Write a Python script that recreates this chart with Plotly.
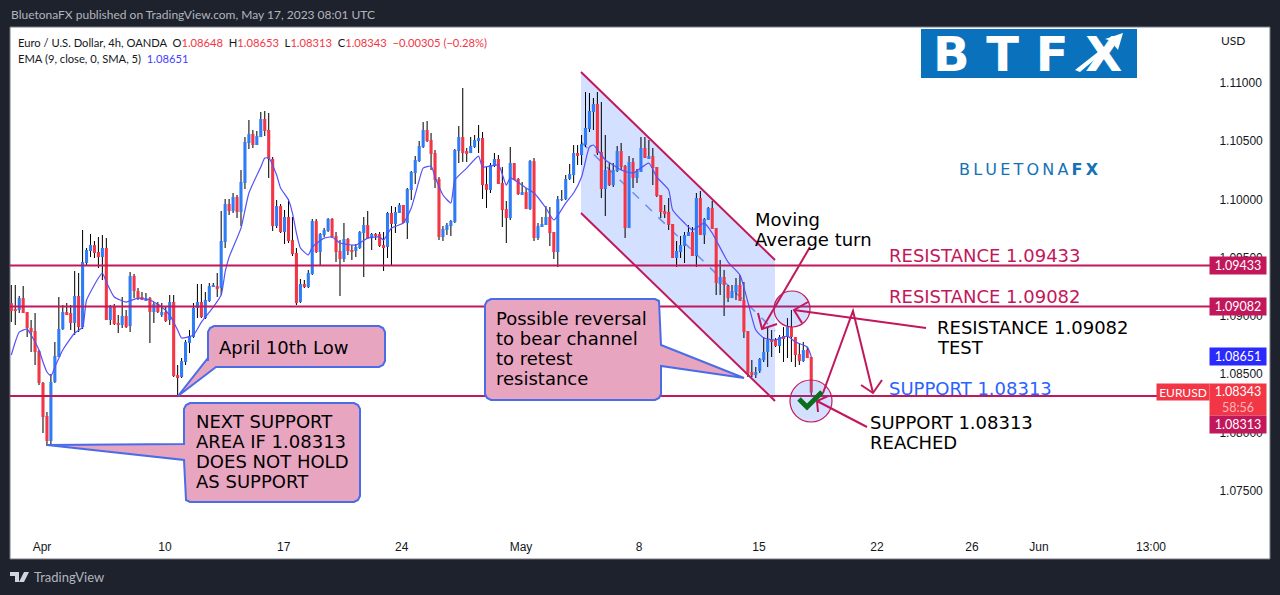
import plotly.graph_objects as go

# EURUSD 4h bars, oldest first
opens = [
    1.09111, 1.09060, 1.09051, 1.09154, 1.09034, 1.08897, 1.08871, 1.08699, 1.08425, 1.08142,
    1.07927, 1.08434, 1.08648, 1.08888, 1.09034, 1.09026, 1.08940, 1.09172, 1.08905, 1.09455,
    1.09558, 1.09609, 1.09549, 1.09506, 1.09584, 1.08966, 1.09086, 1.08940, 1.08923, 1.09000,
    1.08914, 1.09343, 1.09214, 1.09163, 1.09137, 1.09154, 1.09034, 1.09103, 1.09008, 1.09034,
    1.08966, 1.09120, 1.08493, 1.08476, 1.08605, 1.08768, 1.08820, 1.09069, 1.09120, 1.08983,
    1.09129, 1.09257, 1.09257, 1.09240, 1.09635, 1.09961, 1.09901, 1.10021, 1.09893, 1.10142,
    1.10485, 1.10562, 1.10468, 1.10536, 1.10691, 1.10597, 1.10348, 1.09772, 1.09944, 1.09721,
    1.09850, 1.09652, 1.09541, 1.09120, 1.09275, 1.09249, 1.09360, 1.09815, 1.09549, 1.09695,
    1.09730, 1.09833, 1.09687, 1.09558, 1.09489, 1.09661, 1.09566, 1.09558, 1.09584, 1.09712,
    1.09781, 1.09669, 1.09704, 1.09704, 1.09609, 1.09592, 1.09884, 1.09790, 1.09884, 1.09953,
    1.09798, 1.10082, 1.10227, 1.10330, 1.10451, 1.10597, 1.10511, 1.10399, 1.10176, 1.09678,
    1.09738, 1.09772, 1.09807, 1.10416, 1.10536, 1.10416, 1.10399, 1.10451, 1.10502, 1.10528,
    1.10133, 1.10082, 1.10287, 1.10348, 1.10142, 1.09918, 1.09841, 1.10313, 1.10176, 1.10047,
    1.10064, 1.09918, 1.10330, 1.09669, 1.09764, 1.09781, 1.09850, 1.09721, 1.09549, 1.09996,
    1.10004, 1.10176, 1.10210, 1.10399, 1.10382, 1.10468, 1.10605, 1.10751, 1.10820, 1.10408,
    1.10090, 1.10253, 1.10124, 1.10245, 1.10416, 1.10287, 1.09755, 1.10322, 1.10185, 1.10236,
    1.10442, 1.10356, 1.10373, 1.10279, 1.10039, 1.09901, 1.09893, 1.09790, 1.09498, 1.09549,
    1.09601, 1.09687, 1.09721, 1.09515, 1.10013, 1.09695, 1.09824, 1.09927, 1.09755, 1.09275,
    1.09335, 1.09257, 1.09154, 1.09206, 1.09266, 1.09137, 1.08871, 1.08519, 1.08493, 1.08528,
    1.08622, 1.08691, 1.08794, 1.08794, 1.08742, 1.08828, 1.08820, 1.08905, 1.08820, 1.08673,
    1.08613, 1.08708, 1.08648,
]
highs = [
    1.09266, 1.09266, 1.09172, 1.09257, 1.09034, 1.08966, 1.09026, 1.08708, 1.08434, 1.08176,
    1.08502, 1.08777, 1.09163, 1.09094, 1.09111, 1.09094, 1.09386, 1.09369, 1.09738, 1.09584,
    1.09704, 1.09644, 1.09678, 1.09695, 1.09669, 1.09094, 1.09103, 1.09008, 1.09163, 1.09051,
    1.09378, 1.09360, 1.09240, 1.09206, 1.09197, 1.09163, 1.09120, 1.09120, 1.09111, 1.09077,
    1.09180, 1.09180, 1.08579, 1.08639, 1.08794, 1.08880, 1.09111, 1.09275, 1.09275, 1.09206,
    1.09283, 1.09283, 1.09369, 1.09901, 1.10004, 1.10004, 1.10056, 1.10039, 1.10253, 1.10536,
    1.10682, 1.10597, 1.10588, 1.10751, 1.10760, 1.10742, 1.10365, 1.09996, 1.09961, 1.09910,
    1.10004, 1.09850, 1.09584, 1.09317, 1.09309, 1.09395, 1.09833, 1.09833, 1.09712, 1.09755,
    1.09841, 1.09841, 1.09721, 1.09652, 1.09798, 1.09669, 1.09609, 1.09618, 1.09730, 1.09850,
    1.09901, 1.09712, 1.09712, 1.09721, 1.09721, 1.09893, 1.09944, 1.09936, 1.09970, 1.09953,
    1.10099, 1.10245, 1.10373, 1.10502, 1.10665, 1.10674, 1.10571, 1.10425, 1.10193, 1.09772,
    1.09798, 1.09824, 1.10433, 1.10631, 1.10957, 1.10442, 1.10536, 1.10554, 1.10639, 1.10579,
    1.10279, 1.10313, 1.10399, 1.10382, 1.10279, 1.09987, 1.10451, 1.10313, 1.10185, 1.10150,
    1.10099, 1.10339, 1.10356, 1.09798, 1.09850, 1.09944, 1.09936, 1.09721, 1.10030, 1.10082,
    1.10210, 1.10305, 1.10468, 1.10468, 1.10554, 1.10923, 1.10914, 1.10871, 1.10923, 1.10837,
    1.10554, 1.10313, 1.10313, 1.10459, 1.10485, 1.10296, 1.10373, 1.10356, 1.10262, 1.10536,
    1.10536, 1.10511, 1.10442, 1.10279, 1.10039, 1.09953, 1.10013, 1.09790, 1.09644, 1.09687,
    1.09721, 1.09781, 1.09764, 1.10056, 1.10073, 1.09841, 1.09936, 1.09987, 1.09755, 1.09481,
    1.09395, 1.09266, 1.09266, 1.09326, 1.09352, 1.09292, 1.08871, 1.08622, 1.08562, 1.08639,
    1.08820, 1.08905, 1.08880, 1.08811, 1.08837, 1.08905, 1.08983, 1.09051, 1.08820, 1.08768,
    1.08777, 1.08734, 1.08653,
]
lows = [
    1.08948, 1.08923, 1.09026, 1.09026, 1.08820, 1.08691, 1.08579, 1.08408, 1.07996, 1.07884,
    1.07884, 1.08425, 1.08648, 1.08880, 1.09008, 1.08880, 1.08837, 1.08862, 1.08888, 1.09438,
    1.09506, 1.09498, 1.09412, 1.09309, 1.08966, 1.08923, 1.08923, 1.08854, 1.08897, 1.08897,
    1.08862, 1.09154, 1.09137, 1.09137, 1.09129, 1.08768, 1.08940, 1.09026, 1.08991, 1.08948,
    1.08923, 1.08476, 1.08313, 1.08467, 1.08579, 1.08682, 1.08811, 1.08983, 1.08983, 1.08974,
    1.09120, 1.09249, 1.09163, 1.09180, 1.09584, 1.09867, 1.09884, 1.09841, 1.09772, 1.10090,
    1.10433, 1.10442, 1.10468, 1.10536, 1.10545, 1.10185, 1.09730, 1.09755, 1.09712, 1.09618,
    1.09627, 1.09515, 1.09094, 1.09111, 1.09240, 1.09240, 1.09352, 1.09541, 1.09429, 1.09678,
    1.09721, 1.09669, 1.09463, 1.09172, 1.09463, 1.09524, 1.09481, 1.09506, 1.09575, 1.09335,
    1.09661, 1.09566, 1.09652, 1.09592, 1.09386, 1.09498, 1.09429, 1.09712, 1.09884, 1.09798,
    1.09661, 1.09996, 1.10133, 1.10322, 1.10442, 1.10494, 1.10253, 1.10099, 1.09652, 1.09644,
    1.09695, 1.09687, 1.09798, 1.10313, 1.10322, 1.10322, 1.10399, 1.10442, 1.10399, 1.10004,
    1.09927, 1.10056, 1.10279, 1.10133, 1.09764, 1.09627, 1.09824, 1.10167, 1.10039, 1.10047,
    1.09918, 1.09910, 1.09644, 1.09652, 1.09764, 1.09781, 1.09601, 1.09489, 1.09420, 1.09987,
    1.09996, 1.10167, 1.10142, 1.10296, 1.10296, 1.10451, 1.10579, 1.10597, 1.10382, 1.10013,
    1.09858, 1.10116, 1.10107, 1.10236, 1.10253, 1.09669, 1.09755, 1.10099, 1.10142, 1.10236,
    1.10356, 1.10356, 1.10124, 1.10021, 1.09841, 1.09841, 1.09738, 1.09498, 1.09420, 1.09498,
    1.09455, 1.09687, 1.09515, 1.09420, 1.09695, 1.09618, 1.09824, 1.09747, 1.09180, 1.09180,
    1.09000, 1.09120, 1.09154, 1.09137, 1.09129, 1.08811, 1.08476, 1.08476, 1.08467, 1.08510,
    1.08605, 1.08562, 1.08648, 1.08734, 1.08682, 1.08605, 1.08639, 1.08605, 1.08562, 1.08579,
    1.08605, 1.08639, 1.08313,
]
closes = [
    1.09043, 1.09043, 1.09154, 1.09026, 1.08897, 1.08862, 1.08691, 1.08425, 1.08133, 1.07927,
    1.08434, 1.08656, 1.08888, 1.09034, 1.09008, 1.08940, 1.09172, 1.08905, 1.09463, 1.09566,
    1.09609, 1.09541, 1.09506, 1.09584, 1.08966, 1.09077, 1.08931, 1.08931, 1.09000, 1.08905,
    1.09343, 1.09214, 1.09154, 1.09137, 1.09154, 1.09034, 1.09103, 1.09034, 1.09034, 1.08957,
    1.09120, 1.08485, 1.08467, 1.08613, 1.08777, 1.08828, 1.09069, 1.09120, 1.08991, 1.09137,
    1.09257, 1.09266, 1.09232, 1.09644, 1.09961, 1.09901, 1.10021, 1.09893, 1.10150, 1.10494,
    1.10562, 1.10468, 1.10545, 1.10691, 1.10588, 1.10348, 1.09772, 1.09944, 1.09721, 1.09850,
    1.09644, 1.09532, 1.09111, 1.09275, 1.09249, 1.09369, 1.09815, 1.09549, 1.09704, 1.09738,
    1.09833, 1.09678, 1.09549, 1.09489, 1.09661, 1.09558, 1.09558, 1.09592, 1.09721, 1.09781,
    1.09669, 1.09704, 1.09695, 1.09601, 1.09592, 1.09884, 1.09790, 1.09893, 1.09953, 1.09798,
    1.10090, 1.10236, 1.10339, 1.10459, 1.10597, 1.10502, 1.10391, 1.10167, 1.09678, 1.09747,
    1.09781, 1.09815, 1.10425, 1.10536, 1.10399, 1.10399, 1.10459, 1.10511, 1.10528, 1.10124,
    1.10082, 1.10296, 1.10348, 1.10133, 1.09910, 1.09841, 1.10313, 1.10167, 1.10047, 1.10064,
    1.09918, 1.10330, 1.09669, 1.09772, 1.09790, 1.09850, 1.09712, 1.09549, 1.10004, 1.10004,
    1.10176, 1.10219, 1.10399, 1.10382, 1.10476, 1.10614, 1.10760, 1.10820, 1.10399, 1.10090,
    1.10253, 1.10124, 1.10253, 1.10416, 1.10279, 1.09755, 1.10322, 1.10185, 1.10245, 1.10442,
    1.10356, 1.10373, 1.10270, 1.10030, 1.09893, 1.09884, 1.09781, 1.09498, 1.09558, 1.09609,
    1.09695, 1.09721, 1.09515, 1.10013, 1.09695, 1.09833, 1.09927, 1.09747, 1.09283, 1.09335,
    1.09266, 1.09154, 1.09214, 1.09266, 1.09129, 1.08862, 1.08510, 1.08493, 1.08519, 1.08631,
    1.08691, 1.08794, 1.08777, 1.08742, 1.08820, 1.08811, 1.08905, 1.08820, 1.08665, 1.08613,
    1.08708, 1.08639, 1.08343,
]

# EMA(9) read at the bends of the line
ema_bars = [
    0, 1, 2, 4, 5, 7, 8, 9, 10, 11, 13, 16, 18, 19, 22, 23, 24, 26, 29, 32,
    35, 38, 40, 42, 43, 46, 48, 51, 53, 54, 55, 58, 60, 63, 64, 65, 67, 68, 70, 71,
    72, 73, 75, 76, 79, 81, 83, 87, 90, 93, 94, 96, 99, 101, 103, 104, 106, 107, 109, 111,
    112, 115, 118, 119, 123, 125, 126, 130, 132, 135, 137, 140, 142, 144, 146, 147, 150, 152, 154, 157,
    161, 163, 166, 167, 170, 172, 175, 177, 181, 184, 186, 188, 190, 193, 196, 198, 201, 202,
]
ema_values = [
    1.08665, 1.08777, 1.08862, 1.08888, 1.08837, 1.08708, 1.08605, 1.08519, 1.08485, 1.08562,
    1.08708, 1.08854, 1.08905, 1.09137, 1.09326, 1.09369, 1.09292, 1.09163, 1.09120, 1.09154,
    1.09137, 1.09077, 1.09008, 1.08880, 1.08811, 1.08837, 1.08948, 1.09077, 1.09180, 1.09378,
    1.09506, 1.09755, 1.10056, 1.10279, 1.10356, 1.10356, 1.10210, 1.10099, 1.09996, 1.09884,
    1.09712, 1.09584, 1.09524, 1.09592, 1.09669, 1.09678, 1.09627, 1.09609, 1.09669, 1.09678,
    1.09652, 1.09755, 1.09798, 1.09927, 1.10167, 1.10270, 1.10287, 1.10193, 1.10039, 1.09970,
    1.10167, 1.10270, 1.10373, 1.10279, 1.10296, 1.10124, 1.10185, 1.10099, 1.10056, 1.09927,
    1.09824, 1.09970, 1.10056, 1.10193, 1.10451, 1.10468, 1.10339, 1.10296, 1.10253, 1.10227,
    1.10313, 1.10193, 1.10082, 1.09910, 1.09798, 1.09738, 1.09798, 1.09712, 1.09463, 1.09352,
    1.09120, 1.08880, 1.08811, 1.08794, 1.08828, 1.08777, 1.08734, 1.08651,
]

# horizontal levels drawn on the chart
levels = [1.09433, 1.09082, 1.08313]

price_ticks = [1.11, 1.105, 1.10, 1.095, 1.09, 1.085, 1.08, 1.075]
date_bars = [7.75, 38.8, 68.8, 98.6, 128.7, 158.5, 188.8, 218.6, 242.6, 259.5, 287.8]
date_labels = ["Apr", "10", "17", "24", "May", "8", "15", "22", "26", "Jun", "13:00"]

UP = "#2E7CF6"
DOWN = "#F23645"
CRIMSON = "#C2185B"
PINK = "#E8A5C0"
EDGE = "#4A6CE8"
CHANNEL = "rgba(41,98,255,0.2)"
DARK = "#1E222D"

W, H = 1280, 595
LEFT, RIGHT, TOP, BOTTOM = 10, 1210, 27, 530


def px(x):
    return (x - LEFT) / (RIGHT - LEFT)


def py(y):
    return (BOTTOM - y) / (BOTTOM - TOP)


def path_of(points, close=False):
    d = "M" + " L".join(f"{px(x):.5f},{py(y):.5f}" for x, y in points)
    return d + (" Z" if close else "")


def polyline(points, color=CRIMSON, width=2):
    return dict(type="path", path=path_of(points), xref="paper", yref="paper",
                line=dict(color=color, width=width), layer="above")


def circle(cx, cy, r):
    return dict(type="circle", xref="paper", yref="paper",
                x0=px(cx - r), x1=px(cx + r), y0=py(cy + r), y1=py(cy - r),
                fillcolor=CHANNEL, line=dict(color=CRIMSON, width=1.2), layer="above")


def callout(x0, y0, x1, y1, pointer):
    # rectangle corners with the pointer points spliced in, clockwise from top left
    r = 6
    pts = [(x0 + r, y0), (x1 - r, y0), (x1 - 2, y0 + 2), (x1, y0 + r), (x1, y1 - r), (x1 - 2, y1 - 2),
           (x1 - r, y1), (x0 + r, y1), (x0 + 2, y1 - 2), (x0, y1 - r), (x0, y0 + r), (x0 + 2, y0 + 2)]
    pts = pointer(pts)
    return dict(type="path", path=path_of(pts, close=True), xref="paper", yref="paper",
                fillcolor=PINK, line=dict(color=EDGE, width=2), layer="above")


def label(x, y, text, size=18, color="#000000", font="DejaVu Sans", anchor="left", **kw):
    return dict(xref="paper", yref="paper", x=px(x), y=py(y), text=text, showarrow=False,
                xanchor=anchor, yanchor="middle", borderpad=0,
                font=dict(family=font, size=size, color=color), **kw)


def price_tag(y, text, bg, h=17, w=56, x=1238):
    return label(x, y, text, size=12.5, color="#FFFFFF", font="Lato", anchor="center",
                 bgcolor=bg, width=w, height=h)


bars = list(range(len(opens)))
colors = [UP if c >= o else DOWN for o, c in zip(opens, closes)]

fig = go.Figure()
# the tiny transparency makes plotly round the thin wick to one pixel instead of widening it
fig.add_trace(go.Bar(x=bars, base=lows, y=[h - l for h, l in zip(highs, lows)],
                     width=0.26, marker=dict(color="rgba(0,0,0,0.995)", line=dict(width=0))))
fig.add_trace(go.Bar(x=bars, base=[min(o, c) for o, c in zip(opens, closes)],
                     y=[abs(c - o) for o, c in zip(opens, closes)],
                     width=0.78, marker=dict(color=colors, line=dict(width=0))))
fig.add_trace(go.Scatter(x=ema_bars, y=ema_values, mode="lines",
                         line=dict(color="#5550F8", width=1.2, shape="spline", smoothing=0.5)))

shapes = [
    # white chart panel including both axis strips
    dict(type="rect", xref="paper", yref="paper", x0=px(10), x1=px(1270), y0=py(559), y1=py(27),
         fillcolor="#FFFFFF", line=dict(color="#787B86", width=1), layer="below"),
    # bear channel
    dict(type="path", path=path_of([(581, 72), (775, 260), (775, 401), (581, 213)], close=True),
         xref="paper", yref="paper", fillcolor=CHANNEL, line=dict(width=0), layer="below"),
    dict(type="path", path=path_of([(581, 142), (775, 331)]), xref="paper", yref="paper",
         line=dict(color="#6A8FF2", width=1.5, dash="dash"), layer="below"),
]
for lvl in levels:
    shapes.append(dict(type="line", xref="paper", yref="y", x0=0, x1=1 if lvl != levels[2] else px(1158),
                       y0=lvl, y1=lvl, line=dict(color=CRIMSON, width=2), layer="above"))
shapes += [
    polyline([(581, 72), (775, 260)]),
    polyline([(581, 213), (775, 401)]),
    circle(792, 309, 18),
    circle(811, 401, 21),
    # moving average arrow
    polyline([(810, 247), (762, 329)]),
    polyline([(758, 313), (762, 329), (777, 324)]),
    # resistance test arrow
    polyline([(926, 328), (794, 310)]),
    polyline([(808, 302), (794, 310), (802, 323)]),
    # expected move
    polyline([(823, 393), (853, 311), (873, 393)]),
    polyline([(861, 385), (873, 393), (882, 380)]),
    # support reached arrow
    polyline([(867, 427), (817, 401)]),
    polyline([(818, 412), (817, 401), (828, 396)]),
    polyline([(799, 399), (807, 407), (822, 392)], color="#0B6E1E", width=5),
    callout(208, 326, 385, 367, lambda p: p[:7] + [(216, 367), (178, 396), (208, 358)] + p[9:]),
    callout(184, 403, 360, 502, lambda p: p[:9] + [(184, 460), (47, 445), (184, 444)] + p[10:]),
    callout(485, 299, 661, 400, lambda p: p[:3] + [(661, 345), (744, 378), (661, 366)] + p[4:]),
    # BTFX logo plate
    dict(type="rect", xref="paper", yref="paper", x0=px(921), x1=px(1137), y0=py(78), y1=py(29),
         fillcolor="#0A72BD", line=dict(width=0), layer="above"),
    dict(type="path", path=path_of([(1075, 70), (1112, 41), (1105, 39), (1123, 33), (1118, 50), (1113, 44), (1080, 72)], close=True),
         xref="paper", yref="paper", fillcolor="#FFFFFF", line=dict(width=0), layer="above"),
    # TradingView mark
    dict(type="path", path=path_of([(10, 572), (19, 572), (19, 582), (15, 582), (15, 576), (10, 576)], close=True),
         xref="paper", yref="paper", fillcolor="#D1D4DC", line=dict(width=0), layer="above"),
    dict(type="path", path=path_of([(24, 572), (29, 572), (24, 582), (19, 582)], close=True),
         xref="paper", yref="paper", fillcolor="#D1D4DC", line=dict(width=0), layer="above"),
]

red = "<span style='color:#F23645'>%s</span>"
legend_line = ("Euro / U.S. Dollar, 4h, OANDA  O" + red % "1.08648" + "  H" + red % "1.08653"
               + "  L" + red % "1.08313" + "  C" + red % "1.08343" + "  " + red % "−0.00305 (−0.28%)")

annotations = [
    label(10, 15, "BluetonaFX published on TradingView.com, May 17, 2023 08:01 UTC", size=12, color="#B2B5BE", font="Lato"),
    label(17, 42, legend_line, size=11.2, color="#131722", font="Lato"),
    label(17, 58, "EMA (9, close, 0, SMA, 5)  <span style='color:#3F3FFF'>1.08651</span>", size=11.2, color="#131722", font="Lato"),
    label(1220, 40, "USD", size=12, color="#131722", font="Lato"),
    label(33, 577, "TradingView", size=13, color="#B2B5BE", font="Lato"),
    # logo wordmarks
    label(1027, 54, "<b>B T F X</b>", size=48, color="#FFFFFF", anchor="center"),
    label(1029, 169, "B\u2009L\u2009U\u2009E\u2009T\u2009O\u2009N\u2009A\u2009<b>F\u2009X</b>", size=16, color="#1272B5", anchor="center"),
    # level titles
    label(888, 255, "RESISTANCE 1.09433", color=CRIMSON),
    label(888, 296, "RESISTANCE 1.09082", color=CRIMSON),
    label(888, 388, "SUPPORT 1.08313", color="#2962FF"),
    # notes
    label(754, 219, "Moving"),
    label(754, 239, "Average turn"),
    label(936, 327, "RESISTANCE 1.09082"),
    label(936, 347, "TEST"),
    label(869, 422, "SUPPORT 1.08313"),
    label(869, 442, "REACHED"),
    label(218, 347, "April 10th Low"),
    label(195, 421, "NEXT SUPPORT"),
    label(195, 441, "AREA IF 1.08313"),
    label(195, 461, "DOES NOT HOLD"),
    label(195, 481, "AS SUPPORT"),
    label(495, 318, "Possible reversal"),
    label(495, 338, "to bear channel"),
    label(495, 358, "to retest"),
    label(495, 378, "resistance"),
    # price axis tags
    price_tag(265, "1.09433", CRIMSON),
    price_tag(306.5, "1.09082", CRIMSON),
    price_tag(356.5, "1.08651", "#2A2AFF"),
    price_tag(399.5, "1.08343<br><span style='color:#F9B6BC'>58:56</span>", DOWN, h=31),
    price_tag(424, "1.08313", CRIMSON),
    label(1183, 392, "EURUSD", size=12, color="#FFFFFF", font="Lato", anchor="center",
          bgcolor=DOWN, width=52, height=16),
]

fig.update_layout(
    width=W, height=H, autosize=False,
    margin=dict(l=LEFT, r=W - RIGHT, t=TOP, b=H - BOTTOM),
    paper_bgcolor=DARK, plot_bgcolor="#FFFFFF",
    showlegend=False, barmode="overlay", shapes=shapes, annotations=annotations,
    font=dict(family="Lato", size=12, color="#131722"),
    xaxis=dict(range=[-0.33, 302.7], tickmode="array", tickvals=date_bars, ticktext=date_labels,
               showgrid=False, zeroline=False, showline=False, ticks="outside", ticklen=6,
               tickcolor="rgba(0,0,0,0)", tickfont=dict(family="Liberation Sans", size=12)),
    yaxis=dict(range=[1.07163, 1.11481], side="right", tickmode="array", tickvals=price_ticks,
               tickformat=".5f", showgrid=False, zeroline=False, showline=False, ticks="outside",
               ticklen=6, tickcolor="rgba(0,0,0,0)", tickfont=dict(family="Liberation Sans", size=12)),
)

# drop the browser's default page margin so the figure sits at the window corner
fig.write_html("out.html", config={"displayModeBar": False},
               post_script="document.body.style.margin='0';")
